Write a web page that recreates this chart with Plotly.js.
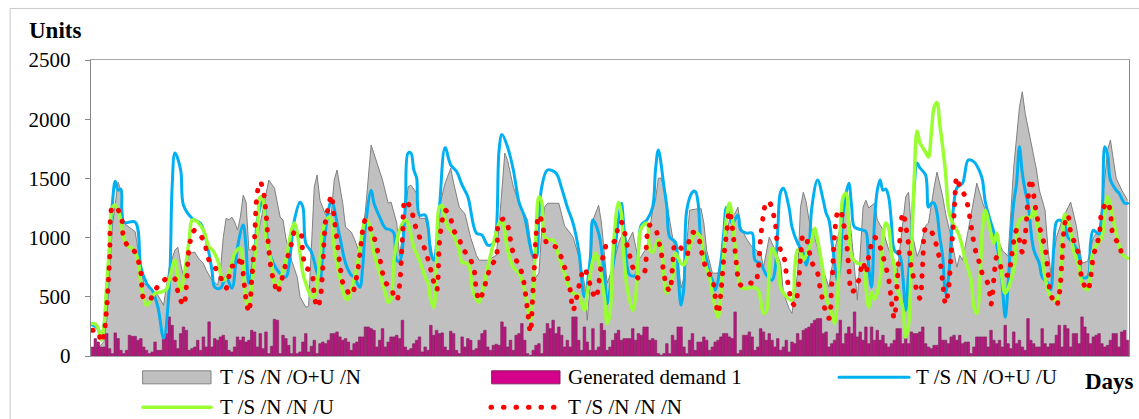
<!DOCTYPE html>
<html>
<head>
<meta charset="utf-8">
<script src="https://cdn.plot.ly/plotly-3.0.1.min.js"></script>
<style>
  html, body { margin: 0; padding: 0; background: #ffffff; }
  #chart { width: 1139px; height: 419px; }
  /* round caps turn the dotted series into round dots */
  .js-plotly-plot .scatterlayer path.js-line { stroke-linecap: round; }
  .js-plotly-plot .shapelayer path { stroke-linecap: round; }
</style>
</head>
<body>
<div id="chart"></div>
<script>
// ---- series values: [day, units] ----
const seriesONUN = [[1,60],[3,70],[5,120],[6,300],[7,700],[8,1100],[10,1468],[11,1400],[12,1123],[14,1089],[16,1050],[17,900],[18,750],[19,615],[21,581],[22,556],[23,531],[24,514],[26,429],[27,581],[28,750],[30,894],[31,919],[32,783],[33,666],[34,750],[35,867],[37,877],[38,834],[40,780],[41,725],[43,641],[45,600],[46,725],[47,1004],[48,1163],[49,1150],[50,1173],[51,1131],[52,1063],[53,1173],[54,1358],[55,1300],[56,894],[57,900],[59,1000],[61,1250],[63,1486],[65,1417],[67,1173],[68,1148],[69,995],[71,809],[73,666],[74,500],[76,412],[77,420],[78,894],[79,1428],[80,1529],[81,1316],[83,1190],[85,1207],[86,1486],[87,1571],[89,1290],[90,1089],[92,1046],[93,995],[95,867],[97,1232],[99,1782],[101,1631],[103,1486],[105,1290],[106,1300],[108,1123],[109,842],[111,1200],[112,1428],[113,1443],[115,1375],[116,1163],[118,1163],[119,1063],[121,800],[122,900],[123,1257],[125,1460],[127,1586],[128,1460],[130,1257],[132,1200],[134,1000],[136,851],[137,809],[140,809],[143,850],[144,1100],[145,1450],[146,1714],[147,1650],[149,1428],[151,1290],[153,1200],[154,1148],[156,809],[157,666],[158,700],[159,1063],[160,1257],[161,1290],[165,1290],[167,1100],[169,1038],[170,1004],[172,842],[174,615],[175,301],[176,600],[177,1148],[179,1273],[180,1123],[181,867],[182,615],[184,750],[186,953],[188,1063],[189,953],[191,1046],[193,809],[194,842],[196,919],[198,1232],[199,1316],[200,1502],[201,1503],[202,1428],[203,1290],[205,1004],[207,800],[208,573],[209,666],[211,1232],[213,1240],[215,1248],[216,1123],[217,894],[219,700],[221,700],[222,783],[225,1148],[227,1207],[228,1257],[229,1089],[231,990],[233,919],[236,867],[237,750],[239,1004],[241,900],[243,783],[244,531],[246,400],[247,360],[249,700],[250,1257],[251,1384],[252,1300],[253,1148],[255,1004],[258,725],[260,581],[262,900],[264,1089],[266,1400],[268,1004],[270,471],[272,1257],[273,1316],[274,1250],[276,1290],[277,1150],[279,1063],[281,900],[283,809],[284,700],[286,1148],[287,1344],[288,1384],[289,1063],[291,842],[292,900],[294,1100],[295,1123],[297,1428],[298,1553],[300,1350],[301,1207],[303,1000],[305,750],[306,850],[307,809],[309,1063],[312,1460],[314,1300],[317,1089],[319,1000],[321,894],[323,842],[325,1597],[327,2100],[328,2232],[329,2052],[331,1825],[333,1571],[334,1400],[336,1232],[337,919],[338,700],[340,1000],[342,1148],[345,1300],[347,1100],[349,783],[351,800],[353,1000],[355,1063],[357,1500],[358,1740],[359,1825],[361,1503],[363,1400],[364,1358],[365,1316]];

const generatedDemand = [
  76,147,118,76,76,189,62,20,195,147,48,20,48,175,166,166,133,147,76,48,20,34,118,48,48,147,189,330,259,133,62,189,245,217,48,62,76,133,48,161,76,288,76,147,133,161,175,133,48,34,76,161,133,161,118,133,217,203,76,189,62,
  203,20,82,310,302,20,175,147,90,20,161,20,34,118,189,34,82,133,20,104,118,104,133,189,189,203,161,133,147,118,48,104,118,161,161,245,245,231,217,76,133,231,76,118,161,161,175,147,302,76,48,62,104,133,161,34,76,48,259,175,217,
  189,195,76,48,209,189,48,20,161,76,147,133,48,62,133,189,217,76,48,90,99,90,288,245,76,133,48,175,189,274,133,20,6,48,90,104,20,189,274,231,302,189,245,175,76,133,76,330,330,133,48,245,118,48,231,48,76,274,217,48,76,
  133,189,217,133,147,147,147,231,133,189,175,245,245,133,147,133,20,6,20,104,20,175,133,245,245,76,20,133,189,48,118,118,161,133,48,76,118,133,161,189,189,161,147,372,20,48,175,175,203,161,48,76,231,203,133,189,133,76,147,48,76,
  133,34,118,104,189,133,217,231,245,274,302,316,316,189,203,76,104,133,189,302,104,189,245,189,372,161,203,133,245,104,245,133,217,133,175,104,76,104,133,231,231,104,189,104,203,189,189,203,245,104,76,62,90,90,245,133,133,104,161,175,133,
  175,104,118,118,20,76,161,161,161,161,76,217,133,104,133,76,259,104,62,203,104,133,76,48,316,133,104,76,76,231,104,76,104,104,175,259,76,259,231,76,189,189,104,330,245,189,104,161,175,189,104,76,90,133,189,189,76,203,217,133
];

const seriesONUU = [[1,260],[3,230],[4,140],[5,250],[6,560],[7,919],[8,1290],[9,1476],[10,1400],[11,1408],[12,1131],[16,1131],[18,750],[20,615],[21,581],[22,556],[24,412],[26,150],[28,581],[29,1428],[30,1714],[32,1571],[33,1273],[36,1163],[37,1148],[39,1120],[41,979],[43,725],[44,581],[46,573],[48,666],[50,573],[52,919],[54,1106],[55,919],[56,615],[58,867],[59,1148],[61,1320],[63,900],[66,725],[69,666],[70,750],[72,1148],[74,1299],[75,1257],[76,953],[78,877],[80,700],[81,641],[82,867],[84,1232],[85,1316],[88,1004],[90,783],[92,683],[93,666],[95,581],[96,750],[97,1089],[99,1400],[100,1290],[102,1173],[104,1080],[106,1063],[107,1038],[108,809],[109,800],[111,1257],[112,1714],[113,1714],[114,1571],[115,1502],[116,1190],[118,1190],[120,867],[121,809],[123,1250],[125,1760],[127,1613],[129,1560],[131,1443],[133,1344],[136,1038],[138,1021],[140,936],[142,953],[143,1063],[144,1740],[145,1870],[147,1764],[149,1571],[151,1300],[153,1173],[155,919],[156,842],[157,830],[158,1173],[159,1428],[161,1571],[164,1545],[166,1417],[168,1257],[170,1123],[172,894],[174,500],[176,809],[177,1148],[179,1038],[181,700],[182,443],[184,750],[186,1150],[187,1290],[188,1063],[190,683],[192,683],[193,900],[194,1106],[196,1150],[198,1257],[199,1571],[200,1740],[202,1428],[203,1257],[204,1004],[206,962],[207,666],[208,429],[209,581],[210,1232],[212,1384],[213,1390],[214,1290],[215,979],[217,809],[218,700],[219,641],[220,556],[222,800],[223,1038],[224,1257],[226,1123],[228,1190],[229,1063],[231,1038],[233,1038],[234,809],[236,780],[238,683],[240,641],[241,720],[242,1063],[243,1384],[244,1417],[246,1250],[247,1089],[249,953],[251,867],[252,767],[253,900],[254,1257],[256,1486],[258,1316],[259,1207],[260,1150],[261,979],[263,641],[264,800],[265,1207],[267,1460],[268,1257],[269,1089],[272,1063],[273,1050],[274,750],[275,581],[276,1123],[277,1400],[278,1486],[279,1400],[280,1410],[281,1344],[282,1123],[283,894],[285,842],[286,666],[287,386],[288,700],[289,1004],[290,1428],[291,1631],[292,1588],[294,1529],[295,1257],[296,1290],[297,1290],[298,1207],[299,1004],[300,842],[301,531],[302,650],[303,1000],[304,1300],[305,1420],[307,1460],[309,1655],[311,1640],[313,1560],[314,1486],[315,1300],[317,1123],[318,1046],[320,809],[321,581],[322,327],[323,600],[324,1000],[325,1300],[326,1460],[327,1767],[328,1545],[329,1400],[330,1290],[332,900],[334,780],[335,666],[337,615],[338,560],[339,894],[340,1131],[341,1148],[343,1100],[344,1004],[346,950],[348,842],[349,666],[351,670],[352,953],[353,1063],[355,1030],[357,1767],[358,1700],[359,1486],[361,1400],[362,1375],[364,1290],[365,1290]];

const seriesNNU = [[1,275],[2,270],[3,233],[4,133],[5,246],[6,600],[7,919],[8,1257],[9,1273],[11,1148],[12,995],[14,919],[15,911],[17,809],[18,615],[20,429],[21,450],[23,531],[25,539],[27,560],[28,641],[30,809],[31,666],[32,556],[33,650],[35,979],[36,1148],[37,1148],[40,1063],[42,919],[43,900],[45,809],[46,700],[47,640],[49,700],[51,867],[53,911],[54,750],[55,471],[56,412],[57,600],[59,1063],[60,1344],[61,1316],[62,1004],[64,783],[65,615],[66,581],[67,640],[69,809],[71,1063],[72,1123],[73,1040],[74,867],[75,700],[76,615],[78,500],[79,500],[80,615],[81,809],[82,1063],[84,1173],[85,1148],[86,919],[88,666],[90,488],[91,480],[92,556],[94,750],[96,1063],[97,1148],[98,1130],[100,867],[102,700],[104,531],[105,455],[106,480],[107,809],[109,1063],[111,1148],[112,1120],[114,919],[116,809],[118,666],[119,620],[120,471],[121,412],[122,800],[123,1257],[124,1273],[125,1148],[126,1089],[128,1021],[130,894],[131,792],[133,780],[134,700],[135,531],[137,455],[138,530],[140,750],[142,950],[144,1123],[145,1148],[146,1050],[147,894],[149,750],[151,700],[152,641],[153,560],[154,420],[155,301],[156,530],[157,1038],[158,1344],[159,1300],[160,1004],[162,979],[163,980],[165,842],[167,700],[169,556],[170,530],[172,510],[174,386],[175,530],[177,809],[178,867],[179,790],[181,500],[182,275],[183,360],[184,867],[186,1299],[187,1200],[188,809],[189,581],[191,386],[192,500],[193,867],[194,1080],[196,1123],[197,900],[198,877],[200,979],[201,930],[202,666],[203,531],[205,666],[206,867],[208,783],[209,770],[211,919],[213,1038],[215,1000],[216,809],[218,666],[219,531],[221,327],[222,531],[223,867],[224,1173],[225,1290],[226,1173],[227,919],[228,700],[229,581],[231,570],[233,581],[235,560],[237,360],[238,380],[239,725],[240,911],[242,800],[243,581],[244,531],[247,471],[248,750],[249,894],[250,880],[251,809],[252,850],[254,979],[255,1080],[256,979],[257,850],[258,700],[259,500],[261,360],[262,275],[263,500],[264,1063],[265,1344],[266,1375],[267,1089],[268,842],[270,783],[272,770],[273,581],[274,412],[275,540],[276,480],[278,641],[279,1004],[280,1123],[281,1080],[282,867],[283,760],[284,581],[286,400],[287,158],[288,260],[289,850],[290,1500],[291,1900],[292,1800],[293,1760],[294,1720],[295,1680],[296,1880],[297,2100],[298,2140],[299,1950],[300,1767],[301,1550],[302,1250],[303,1150],[305,1060],[306,1004],[308,809],[310,641],[311,412],[312,360],[314,1063],[315,1232],[318,953],[319,1038],[321,641],[322,531],[325,725],[326,1004],[327,1148],[329,1173],[331,1173],[332,1257],[333,1150],[335,867],[336,666],[338,500],[340,471],[342,953],[343,1200],[345,1050],[346,894],[348,750],[349,615],[351,560],[353,894],[356,1004],[357,1207],[358,1344],[361,1038],[363,867],[365,825]];

const seriesNNN = [[1,217],[2,215],[3,208],[4,116],[5,183],[6,412],[7,809],[8,1257],[9,1257],[11,1190],[12,995],[14,911],[16,877],[18,700],[19,488],[21,471],[23,556],[25,615],[28,666],[30,650],[31,548],[33,429],[35,919],[36,1021],[37,1063],[40,979],[42,809],[44,750],[46,666],[48,573],[50,758],[52,750],[53,843],[55,480],[56,370],[57,641],[58,1000],[59,1384],[60,1468],[61,1400],[62,1207],[63,900],[64,708],[65,615],[66,531],[67,598],[69,783],[70,867],[71,953],[72,1046],[74,1046],[75,851],[76,750],[78,708],[79,514],[80,412],[81,471],[83,1148],[84,1257],[85,1358],[86,1163],[87,979],[88,767],[89,620],[90,573],[92,514],[94,683],[95,851],[97,1148],[99,1063],[100,1004],[101,911],[102,825],[104,623],[106,573],[107,510],[108,471],[109,600],[110,1000],[111,1316],[113,1240],[114,1148],[115,1063],[118,894],[120,725],[122,556],[123,953],[124,1148],[125,1232],[127,1156],[128,1063],[130,987],[131,911],[133,851],[135,750],[136,556],[137,471],[141,750],[143,834],[144,1131],[146,1156],[149,867],[152,700],[154,386],[155,200],[156,581],[158,1190],[159,1139],[161,945],[164,919],[167,750],[169,556],[170,386],[172,581],[173,683],[174,741],[175,683],[177,531],[178,488],[180,783],[181,877],[182,953],[183,953],[185,979],[186,1120],[187,1131],[189,936],[190,843],[191,750],[193,658],[195,700],[196,1004],[197,1106],[199,1072],[200,979],[201,877],[202,683],[203,590],[204,548],[205,750],[206,945],[208,911],[210,851],[211,1000],[212,1046],[214,1004],[215,903],[216,800],[217,725],[219,649],[220,500],[221,360],[222,531],[223,825],[224,1038],[225,1224],[226,1089],[227,886],[229,598],[231,623],[234,615],[235,708],[236,1004],[237,1199],[238,1299],[239,1299],[241,1139],[242,945],[244,851],[245,700],[246,556],[247,455],[248,429],[249,531],[250,825],[251,1021],[252,995],[254,792],[256,700],[257,556],[258,455],[259,360],[260,318],[261,600],[262,1021],[263,1207],[264,1232],[265,1131],[266,1000],[267,741],[268,539],[270,607],[272,792],[273,700],[274,842],[276,1004],[278,919],[279,843],[281,649],[282,455],[283,318],[284,615],[285,1004],[286,1207],[288,945],[289,741],[290,641],[291,548],[292,488],[293,783],[294,1080],[295,1080],[297,1004],[298,911],[299,809],[300,623],[301,440],[302,560],[303,867],[304,1200],[305,1511],[306,1428],[308,1344],[309,1248],[310,1100],[311,953],[312,850],[313,783],[314,691],[316,607],[317,437],[318,650],[319,834],[320,800],[321,708],[323,683],[324,800],[325,970],[326,1063],[327,979],[328,877],[329,1013],[330,1316],[331,1494],[333,1197],[334,1097],[335,1004],[336,919],[337,716],[338,523],[340,429],[341,523],[342,817],[343,1123],[344,1190],[345,1050],[347,919],[348,843],[349,649],[351,556],[352,658],[353,843],[355,1013],[356,1216],[358,1299],[359,1207],[360,1013],[362,945],[363,843]];

const yTicks = [0, 500, 1000, 1500, 2000, 2500];
const seriesNames = ['T /S /N /O+U /N', 'Generated demand 1', 'T /S /N /O+U /U', 'T /S /N /N /U', 'T /S /N /N /N'];

// ---- geometry of the plot area, in pixels ----
const W = 1139, H = 419;
const AREA = { left: 91, right: 1129, top: 60, bottom: 355.7 };
const px = x => (x - AREA.left) / (AREA.right - AREA.left);
const py = y => (AREA.bottom - y) / (AREA.bottom - AREA.top);

const days = s => s.map(p => p[0]);
const units = s => s.map(p => p[1]);
const demandDays = generatedDemand.map((_, i) => i + 1);

const COLORS = {
  areaFill: '#c0c0c0', areaLine: '#808080',
  bar: '#b8177f', barLine: '#80205c', barKey: '#d4008c',
  blue: '#00b0f0', green: '#99ff33', red: '#ff0000'
};
const SERIF = '"Liberation Serif", "Times New Roman", serif';

const traces = [
  { type: 'scatter', mode: 'lines', name: seriesNames[0],
    x: days(seriesONUN), y: units(seriesONUN), xaxis: 'x', yaxis: 'y',
    fill: 'tozeroy', fillcolor: COLORS.areaFill,
    line: { color: COLORS.areaLine, width: 1 }, hoverinfo: 'skip' },
  { type: 'bar', name: seriesNames[1], x: demandDays, y: generatedDemand,
    xaxis: 'x', yaxis: 'y2',
    marker: { color: COLORS.bar, line: { color: COLORS.barLine, width: 0.6 } } },
  { type: 'scatter', mode: 'lines', name: seriesNames[2],
    x: days(seriesONUU), y: units(seriesONUU), xaxis: 'x', yaxis: 'y2',
    line: { color: COLORS.blue, width: 3, shape: 'spline', smoothing: 1 } },
  { type: 'scatter', mode: 'lines', name: seriesNames[3],
    x: days(seriesNNU), y: units(seriesNNU), xaxis: 'x', yaxis: 'y2',
    line: { color: COLORS.green, width: 3.5, shape: 'spline', smoothing: 1 } },
  { type: 'scatter', mode: 'lines', name: seriesNames[4],
    x: days(seriesNNN), y: units(seriesNNN), xaxis: 'x', yaxis: 'y2',
    line: { color: COLORS.red, width: 5, dash: '0.5px,11px', shape: 'spline', smoothing: 1 } }
];

// ---- hand-placed key below the plot ----
const row1 = 377, row2 = 407;
const keyShapes = [
  { type: 'rect', xref: 'paper', yref: 'paper', x0: px(10.5), x1: px(1160), y0: py(8.5), y1: py(440),
    line: { color: '#c8c8c8', width: 1 }, fillcolor: 'rgba(0,0,0,0)', layer: 'below' },
  { type: 'rect', xref: 'paper', yref: 'paper', x0: px(143), x1: px(211), y0: py(370.5), y1: py(383.5),
    line: { color: COLORS.areaLine, width: 1 }, fillcolor: COLORS.areaFill },
  { type: 'rect', xref: 'paper', yref: 'paper', x0: px(492), x1: px(560), y0: py(370.5), y1: py(383.5),
    line: { color: COLORS.barLine, width: 1 }, fillcolor: COLORS.barKey },
  { type: 'line', xref: 'paper', yref: 'paper', x0: px(839), x1: px(909), y0: py(row1), y1: py(row1),
    line: { color: COLORS.blue, width: 3 } },
  { type: 'line', xref: 'paper', yref: 'paper', x0: px(143), x1: px(211), y0: py(row2), y1: py(row2),
    line: { color: COLORS.green, width: 3.5 } },
  { type: 'line', xref: 'paper', yref: 'paper', x0: px(491), x1: px(554), y0: py(row2), y1: py(row2),
    line: { color: COLORS.red, width: 5, dash: '0.5px,12px' } }
];

const label = (text, x, y, size, bold) => ({
  text: bold ? '<b>' + text + '</b>' : text,
  xref: 'paper', yref: 'paper', x: px(x), y: py(y),
  xanchor: 'left', yanchor: 'middle', showarrow: false,
  font: { family: SERIF, size: size, color: '#000000' }
});

const annotations = [
  label('Units', 27, 31, 23, true),
  label('Days', 1083, 381, 23, true),
  label(seriesNames[0], 218, row1, 21),
  label(seriesNames[1], 566, row1, 21),
  label(seriesNames[2], 914, row1, 21),
  label(seriesNames[3], 218, row2, 21),
  label(seriesNames[4], 566, row2, 21)
];

const layout = {
  width: W, height: H,
  margin: { l: AREA.left, r: W - AREA.right, t: AREA.top, b: H - AREA.bottom, pad: 0 },
  paper_bgcolor: '#ffffff', plot_bgcolor: '#ffffff',
  showlegend: false,
  bargap: 0.1,
  font: { family: SERIF, size: 21, color: '#000000' },
  xaxis: { range: [0.47, 365.53], showticklabels: false, ticks: '', showgrid: false,
           zeroline: false, showline: true, linecolor: '#a6a6a6', linewidth: 1, mirror: true,
           fixedrange: true },
  yaxis: { range: [0, 2500], tickvals: yTicks, ticktext: yTicks.map(String),
           ticks: 'outside', ticklen: 5, tickcolor: '#868686', tickwidth: 1,
           showgrid: false, zeroline: false, showline: true, linecolor: '#868686', linewidth: 1.3,
           mirror: true, ticklabelstandoff: 10, tickfont: { family: SERIF, size: 21, color: '#000000' },
           fixedrange: true },
  yaxis2: { range: [0, 2500], overlaying: 'y', visible: false, fixedrange: true },
  shapes: keyShapes,
  annotations: annotations
};

Plotly.newPlot('chart', traces, layout, { displayModeBar: false, staticPlot: true });
</script>
</body>
</html>
